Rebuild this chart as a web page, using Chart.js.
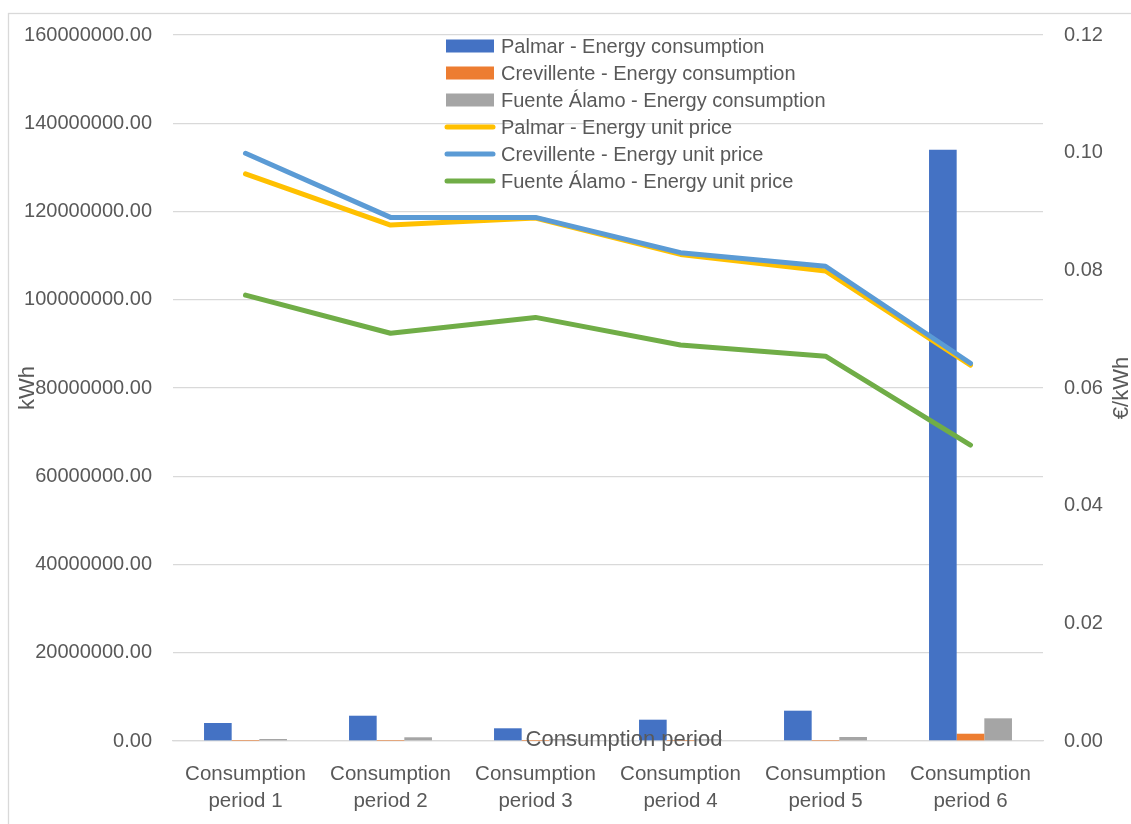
<!DOCTYPE html>
<html>
<head>
<meta charset="utf-8">
<title>Energy consumption and unit price by consumption period</title>
<script src="https://cdn.jsdelivr.net/npm/chart.js@4/dist/chart.umd.min.js"></script>
<style>
  html, body { margin: 0; padding: 0; background: #ffffff; }
  #wrap { width: 1131px; height: 824px; position: relative; }
</style>
</head>
<body>
<div id="wrap"><canvas id="chart" width="1131" height="824"></canvas></div>
<script>
// Consumption periods (x axis)
const periods = [
  ["Consumption", "period 1"],
  ["Consumption", "period 2"],
  ["Consumption", "period 3"],
  ["Consumption", "period 4"],
  ["Consumption", "period 5"],
  ["Consumption", "period 6"]
];

// Energy consumption per plant, kWh (left axis)
const palmarKwh      = [4080000, 5730000, 2880000, 4830000, 6870000, 134000000];
const crevillenteKwh = [20000, 25000, 15000, 20000, 30000, 1650000];
const fuenteAlamoKwh = [450000, 840000, 450000, 400000, 910000, 5140000];

// Energy unit price per plant, €/kWh (right axis)
const palmarPrice      = [0.0964, 0.0877, 0.0889, 0.0827, 0.0799, 0.0639];
const crevillentePrice = [0.0999, 0.0890, 0.0890, 0.0830, 0.0807, 0.0642];
const fuenteAlamoPrice = [0.0758, 0.0693, 0.0720, 0.0673, 0.0654, 0.0503];

// Axis ranges and tick steps
const kwhTicks   = { min: 0, max: 160000000, step: 20000000 };
const priceTicks = { min: 0, max: 0.12, step: 0.02 };

// Titles
const xTitle = "Consumption period";
const yTitle = "kWh";
const y1Title = "€/kWh";

const FONT = "'Liberation Sans', Arial, sans-serif";
const TEXT = "#595959";
const GRID = "#d9d9d9";

// Outer frame drawn behind everything
const framePlugin = {
  id: 'frame',
  beforeDraw(chart) {
    const ctx = chart.ctx;
    ctx.save();
    ctx.fillStyle = '#ffffff';
    ctx.fillRect(0, 0, chart.width, chart.height);
    ctx.strokeStyle = GRID;
    ctx.lineWidth = 1.3;
    ctx.strokeRect(8.5, 13.5, chart.width + 40, chart.height + 40);
    ctx.restore();
  }
};

// Axis titles and the stacked legend inside the plot
const overlayPlugin = {
  id: 'overlay',
  afterDraw(chart) {
    const ctx = chart.ctx;
    const area = chart.chartArea;
    const midY = (area.top + area.bottom) / 2;
    ctx.save();
    ctx.fillStyle = TEXT;
    ctx.font = "22px " + FONT;
    ctx.textAlign = 'center';
    ctx.textBaseline = 'middle';

    // x title sits on the axis line
    ctx.fillText(xTitle, 624, area.bottom - 1);

    // left title
    ctx.save();
    ctx.translate(28, midY);
    ctx.rotate(-Math.PI / 2);
    ctx.fillText(yTitle, 0, 0);
    ctx.restore();

    // right title
    ctx.save();
    ctx.translate(1122, midY);
    ctx.rotate(-Math.PI / 2);
    ctx.fillText(y1Title, 0, 0);
    ctx.restore();

    // legend
    const x0 = 446, sw = 48, textX = 501, top = 46, gap = 27;
    ctx.textAlign = 'left';
    ctx.font = "20px " + FONT;
    chart.data.datasets.forEach((ds, i) => {
      const cy = top + i * gap;
      if (ds.type === 'bar') {
        ctx.fillStyle = ds.backgroundColor;
        ctx.fillRect(x0, cy - 6.5, sw, 13);
      } else {
        ctx.strokeStyle = ds.borderColor;
        ctx.lineWidth = 5;
        ctx.lineCap = 'round';
        ctx.beginPath();
        ctx.moveTo(x0 + 1, cy);
        ctx.lineTo(x0 + sw - 1, cy);
        ctx.stroke();
      }
      ctx.fillStyle = TEXT;
      ctx.fillText(ds.label, textX, cy + 1);
    });
    ctx.restore();
  }
};

const barCommon = {
  type: 'bar',
  yAxisID: 'y',
  categoryPercentage: 0.572,
  barPercentage: 1.0,
  borderWidth: 0,
  order: 10
};
const lineCommon = {
  type: 'line',
  yAxisID: 'y1',
  borderWidth: 5,
  pointRadius: 0,
  pointHoverRadius: 0,
  tension: 0,
  fill: false,
  borderCapStyle: 'round',
  borderJoinStyle: 'round'
};

new Chart(document.getElementById('chart'), {
  data: {
    labels: periods,
    datasets: [
      Object.assign({}, barCommon, { label: "Palmar - Energy consumption", data: palmarKwh, backgroundColor: "#4472C4" }),
      Object.assign({}, barCommon, { label: "Crevillente - Energy consumption", data: crevillenteKwh, backgroundColor: "#ED7D31" }),
      Object.assign({}, barCommon, { label: "Fuente Álamo - Energy consumption", data: fuenteAlamoKwh, backgroundColor: "#A5A5A5" }),
      Object.assign({}, lineCommon, { label: "Palmar - Energy unit price", data: palmarPrice, borderColor: "#FFC000", backgroundColor: "#FFC000", order: 3 }),
      Object.assign({}, lineCommon, { label: "Crevillente - Energy unit price", data: crevillentePrice, borderColor: "#5B9BD5", backgroundColor: "#5B9BD5", order: 2 }),
      Object.assign({}, lineCommon, { label: "Fuente Álamo - Energy unit price", data: fuenteAlamoPrice, borderColor: "#70AD47", backgroundColor: "#70AD47", order: 1 })
    ]
  },
  options: {
    responsive: false,
    devicePixelRatio: 1,
    animation: false,
    layout: { padding: { top: 35, left: 0, right: 0, bottom: 0 } },
    plugins: {
      legend: { display: false },
      tooltip: { enabled: false },
      title: { display: false }
    },
    scales: {
      x: {
        grid: { display: false, drawTicks: false },
        border: { display: true, color: GRID, width: 1.3 },
        ticks: {
          color: TEXT,
          font: { family: FONT, size: 20.5, lineHeight: 1.32 },
          padding: 20,
          maxRotation: 0,
          autoSkip: false
        },
        afterFit(scale) { scale.height = 83; }
      },
      y: {
        position: 'left',
        min: kwhTicks.min,
        max: kwhTicks.max,
        grid: { color: GRID, lineWidth: 1.3, drawTicks: false },
        border: { display: false },
        ticks: {
          stepSize: kwhTicks.step,
          color: TEXT,
          font: { family: FONT, size: 20 },
          padding: 21,
          callback: v => Number(v).toFixed(2)
        },
        afterFit(scale) { scale.width = 173; }
      },
      y1: {
        position: 'right',
        min: priceTicks.min,
        max: priceTicks.max,
        grid: { display: false, drawTicks: false },
        border: { display: false },
        ticks: {
          stepSize: priceTicks.step,
          color: TEXT,
          font: { family: FONT, size: 20 },
          padding: 21,
          callback: v => Number(v).toFixed(2)
        },
        afterFit(scale) { scale.width = 88; }
      }
    }
  },
  plugins: [framePlugin, overlayPlugin]
});
</script>
</body>
</html>
